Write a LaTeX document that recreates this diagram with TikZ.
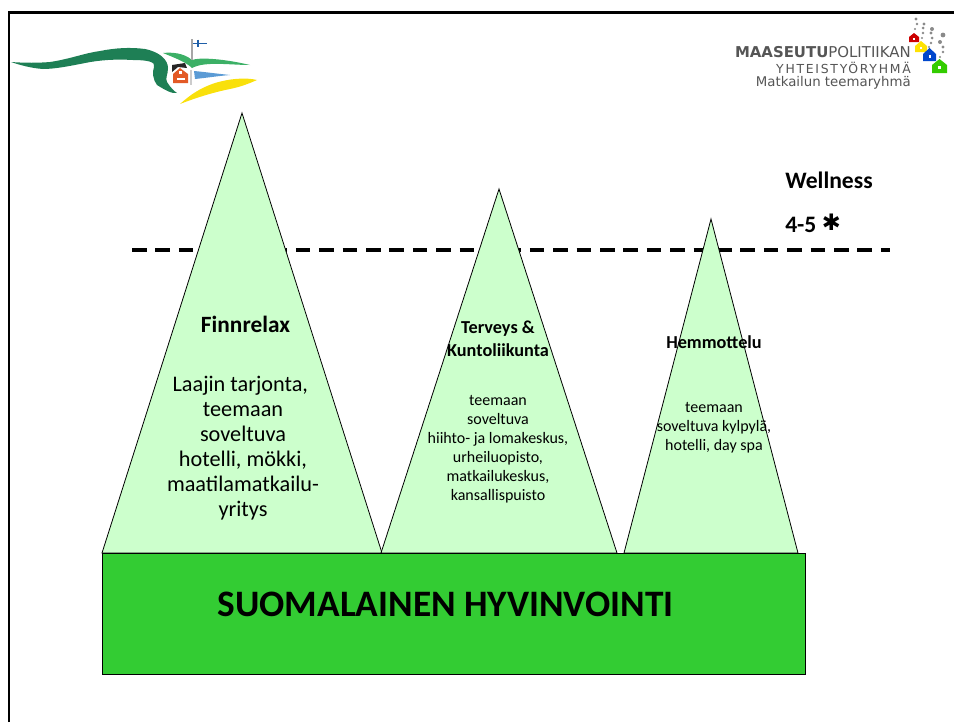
\documentclass[tikz,border=0pt]{standalone}
\usepackage{fontspec}
\setmainfont{Carlito}
\newfontfamily\symfont{DejaVu Sans}
\newfontfamily\logofont{DejaVu Sans}
\newfontfamily\logospaced[LetterSpace=14]{DejaVu Sans}
\definecolor{peak}{HTML}{CCFFCC}
\definecolor{basegreen}{HTML}{33CC33}
\definecolor{logogreen}{HTML}{1E7F55}
\definecolor{logolight}{HTML}{3CB066}
\definecolor{logoblue}{HTML}{5B9BD5}
\definecolor{logoyellow}{HTML}{F9E00B}
\definecolor{logored}{HTML}{E35A26}
\definecolor{flagblue}{HTML}{1F5FA8}
\definecolor{grey1}{HTML}{555555}
\definecolor{bubble}{HTML}{8A8A8A}
\tikzset{
  peakshape/.style={fill=peak,draw=black,line width=0.6pt,line join=miter},
  title/.style={font=\bfseries\fontsize{13.7}{17.3}\selectfont,align=center,text=black},
  small/.style={font=\fontsize{12}{14.3}\selectfont,align=center,text=black},
  sidetext/.style={anchor=west,font=\bfseries\fontsize{17.7}{20}\selectfont,inner sep=0pt},
  logotext/.style={anchor=east,inner sep=0pt,text=grey1},
}
\begin{document}
\begin{tikzpicture}[x=0.75pt,y=-0.75pt]
\useasboundingbox (0,0) rectangle (954,722);
% frame
\draw[line width=2pt,black] (9,722) -- (9,12.5) -- (954,12.5);
% dashed level line
\coordinate (dashA) at (132,250);
\coordinate (dashB) at (890,250);
\draw[line width=2.4pt,dash pattern=on 11pt off 6.55pt] (dashA) -- (dashB);
% peaks
\draw[peakshape] (242,113) -- (382,553) -- (102,553) -- cycle;
\draw[peakshape] (499,189) -- (617,553) -- (381,553) -- cycle;
\draw[peakshape] (711,219) -- (798,553) -- (624,553) -- cycle;
% base
\node[draw=black,line width=0.6pt,fill=basegreen,minimum width=527pt,minimum height=90.5pt,inner sep=0pt,anchor=north west] (base) at (102,553) {};
\node[font=\bfseries\fontsize{28}{32}\selectfont,anchor=center] (baselabel) at (445.5,604) {SUOMALAINEN HYVINVOINTI};
% texts
\node[font=\bfseries\fontsize{17.5}{20}\selectfont] (t1) at (245.5,324) {Finnrelax};
\node[font=\fontsize{16.7}{18.75}\selectfont,align=center] (b1) at (243,448) {Laajin tarjonta,\hspace*{4pt}\\teemaan\\soveltuva\\hotelli, mökki,\\maatilamatkailu-\\yritys};
\node[title] (t2) at (498,339) {Terveys \&\\Kuntoliikunta};
\node[small] (b2) at (498,449) {teemaan\\soveltuva\\hiihto- ja lomakeskus,\\urheiluopisto,\\matkailukeskus,\\kansallispuisto};
\node[title] (t3) at (714,342) {Hemmottelu};
\node[small] (b3) at (714,428) {teemaan\\soveltuva kylpylä,\\hotelli, day spa};
\node[sidetext] (w1) at (785,180) {Wellness};
\node[sidetext] (w2) at (785,223) {4-5 {\symfont\fontsize{17}{20}\selectfont\raisebox{1.6pt}{✱}}};
% left logo
\fill[logogreen] (11,62) .. controls (25,63) and (38,63) .. (50,62) .. controls (70,59) and (85,53) .. (100,51) .. controls (115,48) and (130,47) .. (145,49) .. controls (160,52) and (168,60) .. (168,68) .. controls (168,75) and (165,78) .. (167,82) .. controls (170,87) and (174,91) .. (177,93) .. controls (172,94) and (165,90) .. (157,85) .. controls (153,80) and (152,72) .. (154,67) .. controls (156,62) and (148,60) .. (133,60) .. controls (115,59) and (100,60) .. (85,63) .. controls (70,66) and (55,69) .. (43,69) .. controls (30,68) and (20,65) .. (11,62) -- cycle;
\fill[logolight] (163,53) .. controls (172,52) and (184,53) .. (192,60) .. controls (200,57) and (225,59) .. (250,65) .. controls (230,65) and (205,61) .. (192,68) .. controls (186,62) and (175,58) .. (163,53) -- cycle;
\fill[logoblue] (194,71) .. controls (205,72) and (220,74) .. (230,75) .. controls (218,76) and (205,78) .. (195,79) -- cycle;
\fill[logoyellow] (180,104) .. controls (190,95) and (200,88) .. (215,83) .. controls (228,79) and (245,77) .. (257,80) .. controls (248,84) and (240,87) .. (230,89) .. controls (215,92) and (198,97) .. (180,104) -- cycle;
\fill[black!85] (172,65) -- (185,63) -- (187,68) -- (178,67) -- (172,72) -- cycle;
\fill[logored] (173,83) -- (173,74) -- (180,68) -- (188,74) -- (188,83) -- cycle;
\fill[white] (179,71) rectangle (182,74);
\fill[white] (177,78) rectangle (185,80);
\draw[gray!70,line width=1pt] (192,39) -- (192,60);
\draw[gray!40,line width=1pt] (191,70) -- (191,85);
\draw[flagblue,line width=1.2pt] (193,43.5) -- (207,43.5);
\draw[flagblue,line width=1pt] (198,39.5) -- (198,47);
% right logo text
\node[logotext,font=\logofont\fontsize{11.2}{13}\selectfont] (l1) at (911,52) {\textbf{MAASEUTU}POLITIIKAN};
\node[logotext,font=\logospaced\fontsize{9.3}{11}\selectfont] (l2) at (911,67.5) {YHTEISTYÖRYHMÄ};
\node[logotext,font=\logofont\fontsize{10}{12}\selectfont] (l3) at (911,83) {Matkailun teemaryhmä};
% right logo houses
\fill[red!80!black] (909,42) -- (909,37) -- (914,33) -- (919,37) -- (919,42) -- cycle;
\fill[yellow!85!orange] (915,52) -- (915,46) -- (921,41) -- (927,46) -- (927,52) -- cycle;
\fill[blue!65!cyan!80!black] (923,61) -- (923,54) -- (929.5,48) -- (936,54) -- (936,61) -- cycle;
\fill[green!60!olive] (932,73) -- (932,65) -- (939.5,59) -- (947,65) -- (947,73) -- cycle;
\fill[white] (913,37.5) rectangle (915,40);
\fill[white] (920,46.5) rectangle (922,49);
\fill[white] (928.5,55) rectangle (930.5,58);
\fill[white] (938,66) rectangle (941,69);
\foreach \x/\y/\r in {916/19/1.6,917/24/1.4,915/29/1.2,924/24/1.6,923/28/1.5,923/33/1.3,922/38/1.1,932/29/2,931/33/1.7,932/38/1.5,931/43/1.3,929/47/1.1,943/35/2.4,940/42/2,943/47/1.7,943/52/1.4,940/57/1.2}{\fill[bubble] (\x,\y) circle[radius=\r];}
\end{tikzpicture}
\end{document}
